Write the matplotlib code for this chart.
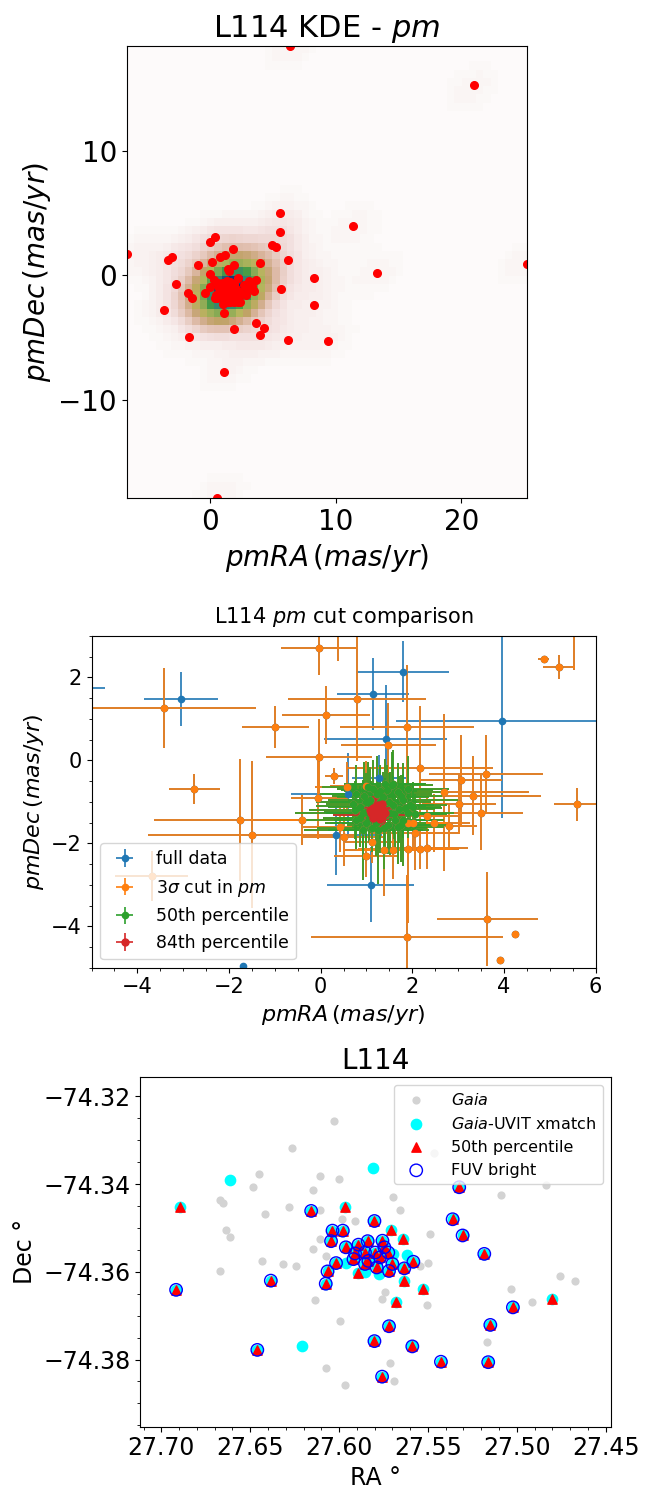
import matplotlib
matplotlib.use('Agg')
import matplotlib.pyplot as plt
import numpy as np
from matplotlib.ticker import MultipleLocator, FuncFormatter

# proper motions (mas/yr), split into the nested selections
# full data only (outside 3 sigma cut)
out_pmra = [-6.67, -3.05, 1.79, 1.14, 3.95, 1.42, 1.28, 0.60, 0.33, 1.09, -1.70,
            6.32, 20.99, 25.2, 0.53, 11.33, 13.28, 9.39, 8.27, 8.27, 6.21, 6.21, 1.07, 5.52]
out_pmdec = [1.74, 1.48, 2.14, 1.60, 0.95, 0.52, -0.42, -0.81, -1.79, -3.00, -4.95,
             18.4, 15.24, 0.94, -17.86, 3.93, 0.16, -5.24, -2.35, -0.21, 1.20, -5.19, -7.75, 5.03]
out_ex = [1.96, 0.81, 1.02, 0.78, 2.31, 1.34, 0.60, 1.25, 1.00, 0.95, 0.05,
          0.4, 0.5, 0.5, 0.4, 0.4, 0.3, 0.4, 0.3, 0.3, 0.2, 0.3, 0.3, 0.3]
out_ey = [0.40, 0.65, 0.73, 0.87, 2.34, 1.30, 0.55, 1.00, 0.97, 0.90, 0.05,
          0.4, 0.5, 0.5, 0.4, 0.4, 0.3, 0.4, 0.3, 0.3, 0.3, 0.3, 0.3, 0.3]

# inside 3 sigma cut only
cut_pmra = [-3.69, -3.42, -0.04, 0.38, 0.79, 0.12, -0.99, 1.88, 1.48, -0.04, -2.76, 2.17,
            3.61, 3.06, 0.29, 2.69, 3.32, 5.60, 3.02, 3.51, 0.57, -0.05, -1.76, -1.49,
            -0.40, 2.32, 2.47, 2.81, 1.91, 2.02, 2.05, 1.91, 2.17, 2.32, 1.59, 1.39,
            1.00, 0.42, 0.50, 1.13, 1.00, 3.64, 1.89, 4.24, 3.92, 4.87, 5.20, 5.54]
cut_pmdec = [-2.79, 1.26, 2.71, 3.10, 1.48, 1.09, 0.81, 0.81, 0.38, 0.09, -0.68, -0.18,
             -0.34, -0.48, -0.38, -0.77, -0.85, -1.06, -1.06, -1.26, -0.64, -0.90, -1.43, -1.79,
             -1.43, -1.35, -1.50, -1.58, -1.52, -1.52, -1.74, -2.13, -2.13, -2.11, -2.17, -2.17,
             -2.31, -1.60, -1.85, -1.97, -0.61, -3.82, -4.27, -4.19, -4.81, 2.44, 2.26, 3.48]
cut_ex = [0.80, 2.00, 0.83, 0.60, 1.51, 0.96, 0.73, 1.46, 1.04, 1.16, 0.56, 1.60,
          1.25, 0.90, 0.20, 1.86, 1.50, 0.50, 0.80, 0.90, 0.70, 0.60, 1.87, 2.27,
          0.90, 0.70, 0.80, 0.60, 0.90, 0.70, 1.00, 1.10, 0.70, 0.90, 0.80, 0.90,
          0.70, 0.80, 0.90, 0.60, 0.80, 1.10, 2.10, 0.05, 0.05, 0.12, 0.35, 0.30]
cut_ey = [0.60, 0.97, 0.65, 0.70, 1.50, 0.70, 0.50, 1.50, 1.00, 0.90, 0.36, 1.50,
          0.95, 1.10, 0.20, 1.90, 0.95, 0.40, 0.70, 0.90, 0.60, 1.00, 1.47, 1.78,
          0.60, 0.60, 0.70, 0.50, 0.80, 0.60, 0.90, 1.80, 0.50, 0.50, 0.70, 1.10,
          0.50, 0.60, 0.70, 0.50, 0.60, 1.14, 1.50, 0.05, 0.05, 0.05, 0.29, 1.30]

# 50th percentile only
p50_pmra = [1.40, 1.58, 1.69, 1.95, 2.02, 1.80, 1.58, 1.51, 1.29, 1.00, 0.93, 0.78, 0.86,
            1.07, 1.22, 1.36, 1.62, 1.80, 1.91, 0.93, 1.69, 1.26, 0.71, 0.78, 1.04,
            1.15, 1.45, 0.95, 1.75, 1.30, 1.50, 1.10, 1.70, 0.98, 1.40, 1.60, 1.85, 1.20,
            1.48, 1.05, 1.75, 0.85, 1.38, 1.12, 1.55, 2.05, 0.75, 1.30, 1.90, 1.00]
p50_pmdec = [-0.56, -0.56, -0.76, -1.08, -1.12, -0.96, -1.08, -1.28, -1.44, -1.52, -1.69, -1.44, -1.12,
             -0.96, -0.80, -0.88, -1.44, -1.44, -1.28, -1.28, -1.60, -1.69, -1.04, -0.80, -0.64,
             -0.70, -0.72, -0.85, -0.85, -1.00, -1.00, -1.10, -1.18, -1.25, -1.32, -1.30, -1.15, -1.50,
             -1.55, -1.38, -1.55, -1.38, -1.62, -1.62, -0.60, -1.30, -1.20, -0.75, -0.70, -1.00]
p50_ex = [0.9, 0.7, 1.1, 0.8, 0.6, 1.2, 0.9, 1.4, 1.0, 0.8, 1.3, 1.1, 0.7,
          0.9, 1.2, 1.0, 0.8, 0.9, 0.7, 1.5, 1.0, 1.1, 0.6, 0.8, 1.0,
          0.8, 1.0, 0.7, 0.9, 1.1, 0.6, 1.2, 0.8, 0.9, 0.7, 1.0, 0.8, 1.1,
          0.9, 0.7, 1.0, 0.8, 0.6, 1.2, 0.9, 0.7, 1.0, 0.8, 0.9, 1.1]
p50_ey = [0.6, 0.8, 0.7, 0.5, 0.6, 0.9, 0.7, 1.0, 0.8, 0.6, 1.2, 0.7, 0.5,
          0.8, 0.9, 0.6, 0.7, 1.1, 0.6, 0.8, 0.9, 1.3, 0.5, 0.7, 0.6,
          0.7, 0.6, 0.8, 0.5, 0.9, 0.7, 0.6, 0.8, 0.7, 0.9, 0.6, 0.5, 0.8,
          0.7, 0.6, 0.9, 0.7, 1.0, 0.6, 0.8, 0.5, 0.7, 0.6, 0.8, 0.7]

# 84th percentile
p84_pmra = [1.14, 1.26, 1.36, 1.22, 1.11, 1.33, 1.18, 1.29,
            1.20, 1.32, 1.25, 1.15, 1.40, 1.08, 1.30, 1.22, 1.35, 1.17]
p84_pmdec = [-1.16, -1.08, -1.20, -1.32, -1.28, -1.36, -1.20, -1.24,
             -1.10, -1.15, -1.30, -1.40, -1.28, -1.20, -1.42, -1.20, -1.05, -1.33]
p84_ex = [0.25, 0.30, 0.20, 0.95, 0.30, 0.25, 0.20, 0.30,
          0.20, 0.25, 0.30, 0.20, 0.25, 0.30, 0.20, 0.25, 0.20, 0.30]
p84_ey = [0.30, 0.25, 0.35, 0.30, 0.20, 0.30, 0.45, 0.25,
          0.25, 0.30, 0.20, 0.25, 0.30, 0.20, 0.25, 0.30, 0.20, 0.25]

# sky positions (deg)
gaia_ra = [27.6026, 27.6266, 27.5466, 27.6453, 27.6106, 27.6003, 27.6487, 27.4838, 27.6148,
           27.5091, 27.5698, 27.6668, 27.6653, 27.6281, 27.6106, 27.5657, 27.6417, 27.5985,
           27.5910, 27.6635, 27.5488, 27.6612, 27.6110, 27.6144, 27.6073, 27.6431, 27.6316,
           27.6243, 27.6672, 27.5498, 27.5545, 27.4758, 27.4672, 27.5035, 27.5741, 27.6133,
           27.5760, 27.5503, 27.4912, 27.5996, 27.5166, 27.5715, 27.6073, 27.5966, 27.5693]
gaia_dec = [-74.3256, -74.3318, -74.3329, -74.3376, -74.3381, -74.3388, -74.3406, -74.3401, -74.3414,
            -74.3424, -74.3429, -74.3437, -74.3443, -74.3453, -74.3460, -74.3459, -74.3469, -74.3479,
            -74.3485, -74.3504, -74.3514, -74.3521, -74.3524, -74.3547, -74.3563, -74.3576, -74.3582,
            -74.3586, -74.3598, -74.3580, -74.3586, -74.3609, -74.3620, -74.3639, -74.3646, -74.3665,
            -74.3663, -74.3675, -74.3669, -74.3713, -74.3759, -74.3807, -74.3820, -74.3858, -74.3849]

# xmatch sources not in the 50th percentile
xm_ra = [27.6614, 27.5809, 27.6206, 27.5620, 27.5962, 27.5854, 27.5775, 27.5694]
xm_dec = [-74.3391, -74.3363, -74.3770, -74.3562, -74.3579, -74.3601, -74.3605, -74.3559]

# 50th percentile, FUV bright
fuv_ra = [27.5324, 27.6157, 27.5801, 27.5361, 27.6037, 27.5979, 27.6045, 27.5305, 27.5962,
          27.5183, 27.6017, 27.6065, 27.5582, 27.5633, 27.6384, 27.6075, 27.6917, 27.5022,
          27.5149, 27.5719, 27.5801, 27.5588, 27.6460, 27.5427, 27.5161, 27.5758,
          27.5891, 27.5839, 27.5756, 27.5745, 27.5910, 27.5854, 27.5797, 27.5835, 27.5769,
          27.5723, 27.5854, 27.5788, 27.5719, 27.5700, 27.5919]
fuv_dec = [-74.3407, -74.3461, -74.3484, -74.3480, -74.3506, -74.3506, -74.3530, -74.3517, -74.3544,
           -74.3559, -74.3580, -74.3599, -74.3577, -74.3592, -74.3620, -74.3627, -74.3641, -74.3681,
           -74.3721, -74.3724, -74.3758, -74.3770, -74.3778, -74.3805, -74.3806, -74.3839,
           -74.3538, -74.3530, -74.3529, -74.3544, -74.3558, -74.3556, -74.3556, -74.3575, -74.3567,
           -74.3556, -74.3582, -74.3590, -74.3598, -74.3582, -74.3571]

# 50th percentile, not FUV bright
p50s_ra = [27.6897, 27.5968, 27.5708, 27.5642, 27.5633, 27.5526, 27.5681, 27.4801, 27.5895]
p50s_dec = [-74.3451, -74.3451, -74.3504, -74.3524, -74.3620, -74.3640, -74.3668, -74.3663, -74.3603]


def minus_fmt(v, pos):
    return ('%.2f' % v).replace('-', '\u2212')


fig = plt.figure(figsize=(6.57, 14.87), dpi=100)

# ---- panel 1: KDE of proper motions
ax1 = fig.add_axes([0.1929, 0.6649, 0.6088, 0.3044])
m1 = np.array(out_pmra + cut_pmra + p50_pmra + p84_pmra)
m2 = np.array(out_pmdec + cut_pmdec + p50_pmdec + p84_pmdec)
xmin, xmax = m1.min(), m1.max()
ymin, ymax = m2.min(), m2.max()

# gaussian kde, scott bandwidth
pts = np.vstack([m1, m2])
n = pts.shape[1]
cov = np.cov(pts) * n ** (-1.0 / 3)
inv = np.linalg.inv(cov)
X, Y = np.mgrid[xmin:xmax:55j, ymin:ymax:55j]
grid = np.vstack([X.ravel(), Y.ravel()])
d = grid[:, :, None] - pts[:, None, :]
q = np.einsum('imn,ij,jmn->mn', d, inv, d)
Z = np.exp(-0.5 * q).sum(axis=1).reshape(X.shape)

ax1.imshow(np.rot90(Z), cmap=plt.cm.gist_earth_r, extent=[xmin, xmax, ymin, ymax], aspect='auto')
ax1.plot(m1, m2, 'ro', markersize=5.5)
ax1.set_xlim(xmin, xmax)
ax1.set_ylim(ymin, ymax)
ax1.xaxis.set_major_locator(MultipleLocator(10))
ax1.yaxis.set_major_locator(MultipleLocator(10))
ax1.set_title(r'L114 KDE - $\it{pm}$', fontsize=22)
ax1.set_xlabel(r'$pmRA\,(mas/yr)$', fontsize=20)
ax1.set_ylabel(r'$pmDec\,(mas/yr)$', fontsize=20)
ax1.tick_params(labelsize=20)

# ---- panel 2: cut comparison
ax2 = fig.add_axes([0.1394, 0.3492, 0.7670, 0.2231])
full_x = out_pmra + cut_pmra + p50_pmra + p84_pmra
full_y = out_pmdec + cut_pmdec + p50_pmdec + p84_pmdec
full_ex = out_ex + cut_ex + p50_ex + p84_ex
full_ey = out_ey + cut_ey + p50_ey + p84_ey
ax2.errorbar(full_x, full_y, xerr=full_ex, yerr=full_ey, fmt='o', ms=4.5, elinewidth=1.2,
             label='full data')
ax2.errorbar(cut_pmra + p50_pmra + p84_pmra, cut_pmdec + p50_pmdec + p84_pmdec,
             xerr=cut_ex + p50_ex + p84_ex, yerr=cut_ey + p50_ey + p84_ey,
             fmt='o', ms=4.5, elinewidth=1.2, label=r'3$\sigma$ cut in $\it{pm}$')
ax2.errorbar(p50_pmra + p84_pmra, p50_pmdec + p84_pmdec, xerr=p50_ex + p84_ex,
             yerr=p50_ey + p84_ey, fmt='o', ms=4.5, elinewidth=1.2, label='50th percentile')
ax2.errorbar(p84_pmra, p84_pmdec, xerr=p84_ex, yerr=p84_ey, fmt='o', ms=5,
             elinewidth=1.2, label='84th percentile')
ax2.set_xlim(-5, 6)
ax2.set_ylim(-5, 3)
ax2.xaxis.set_major_locator(MultipleLocator(2))
ax2.yaxis.set_major_locator(MultipleLocator(2))
ax2.xaxis.set_minor_locator(MultipleLocator(0.5))
ax2.yaxis.set_minor_locator(MultipleLocator(0.5))
ax2.tick_params(labelsize=15)
ax2.set_title(r'L114 $\it{pm}$ cut comparison', fontsize=15, pad=9)
ax2.set_xlabel(r'$pmRA\,(mas/yr)$', fontsize=16)
ax2.set_ylabel(r'$pmDec\,(mas/yr)$', fontsize=16)
ax2.legend(loc='lower left', fontsize=12.5)

# ---- panel 3: sky positions
ax3 = fig.add_axes([0.2131, 0.0406, 0.7169, 0.2350])
p50_ra = fuv_ra + p50s_ra
p50_dec = fuv_dec + p50s_dec
ax3.scatter(gaia_ra + xm_ra + p50_ra, gaia_dec + xm_dec + p50_dec, s=24, c='lightgrey',
            label=r'$\it{Gaia}$')
ax3.scatter(xm_ra + p50_ra, xm_dec + p50_dec, s=55, c='cyan', label=r'$\it{Gaia}$-UVIT xmatch')
ax3.scatter(p50_ra, p50_dec, s=45, c='red', marker='^', label='50th percentile')
ax3.scatter(fuv_ra, fuv_dec, s=80, facecolors='none', edgecolors='blue', linewidths=1,
            label='FUV bright')
ax3.set_xlim(27.712, 27.447)
ax3.set_ylim(-74.3953, -74.3156)
ax3.xaxis.set_major_locator(MultipleLocator(0.05))
ax3.xaxis.set_minor_locator(MultipleLocator(0.01))
ax3.yaxis.set_major_locator(MultipleLocator(0.02))
ax3.yaxis.set_minor_locator(MultipleLocator(0.005))
ax3.xaxis.set_major_formatter(FuncFormatter(minus_fmt))
ax3.yaxis.set_major_formatter(FuncFormatter(minus_fmt))
ax3.tick_params(labelsize=17)
ax3.set_title('L114', fontsize=20)
ax3.set_xlabel('RA °', fontsize=17)
ax3.set_ylabel('Dec °', fontsize=17)
ax3.legend(loc='upper right', fontsize=11.5, handletextpad=1.2)

fig.savefig('out.png', dpi=100)
